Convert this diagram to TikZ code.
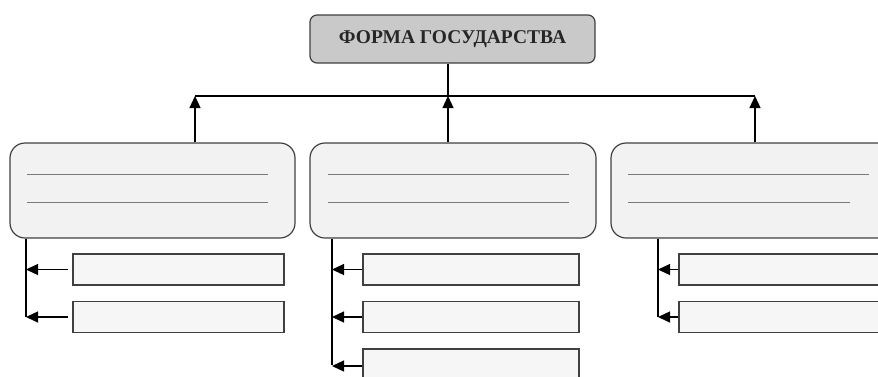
\documentclass[tikz,border=0pt]{standalone}
\usepackage{fontspec}
\setmainfont{Liberation Serif}
\usetikzlibrary{arrows.meta}
\definecolor{edge}{HTML}{404040}
\definecolor{topfill}{HTML}{C9C9C9}
\definecolor{bigfill}{HTML}{F2F2F2}
\definecolor{smallfill}{HTML}{F6F6F6}
\definecolor{rule}{HTML}{7A7A7A}
\begin{document}
\begin{tikzpicture}[x=1pt,y=-1pt,
  topbox/.style={draw=edge,line width=1.2pt,fill=topfill,rounded corners=7pt,minimum width=285pt,minimum height=48pt,inner sep=0pt,font=\fontsize{19.5}{22}\selectfont\bfseries,text=black!85},
  bigbox/.style={draw=edge,line width=1.2pt,fill=bigfill,rounded corners=15pt,minimum height=95pt,inner sep=0pt},
  smallbox/.style={draw=edge,line width=1.2pt,fill=smallfill,minimum height=31pt,inner sep=0pt},
  conn/.style={draw=black,line width=1.3pt},
  arr/.style={conn,-{Triangle[length=12pt,width=11pt]}},
  blank/.style={draw=rule,line width=1pt}]
\useasboundingbox (0,0) rectangle (878,376);
\clip (0,0) rectangle (878,376);
% top
\node[topbox] (top) at (452.5,39) {ФОРМА ГОСУДАРСТВА};
% big boxes
\node[bigbox,minimum width=285pt] (L) at (152.5,190.5) {};
\node[bigbox,minimum width=286pt] (M) at (453,190.5) {};
\node[bigbox,minimum width=286pt] (R) at (754,190.5) {};
% blanks
\draw[blank] (27,174) -- (268,174);
\draw[blank] (27,202) -- (268,202);
\draw[blank] (328,174) -- (569,174);
\draw[blank] (328,202) -- (569,202);
\draw[blank] (628,174) -- (869,174);
\draw[blank] (628,202) -- (850,202);
% small boxes
\node[smallbox,minimum width=211pt] (L1) at (178.5,269.5) {};
\node[smallbox,minimum width=211pt] (L2) at (178.5,317) {};
\node[smallbox,minimum width=216pt] (M1) at (471,269.5) {};
\node[smallbox,minimum width=216pt] (M2) at (471,317) {};
\node[smallbox,minimum width=216pt,minimum height=34pt] (M3) at (471,366) {};
\node[smallbox,minimum width=216pt] (R1) at (787,269.5) {};
\node[smallbox,minimum width=216pt] (R2) at (787,317) {};
% bus
\coordinate (bt) at (448,96);
\coordinate (bl) at (195,96);
\coordinate (br) at (755,96);
\draw[conn] (top.south -| bt) -- (bt);
\draw[conn] (bl) -- (br);
\draw[arr] (L.north -| bl) -- (bl);
\draw[arr] (M.north -| bt) -- (bt);
\draw[arr] (R.north -| br) -- (br);
% left branch
\coordinate (lv) at (26,317);
\draw[conn] (L.south -| lv) -- (lv);
\draw[arr] ([xshift=-4pt]L1.west) -- (L1.west -| lv);
\draw[arr] ([xshift=-4pt]L2.west) -- (L2.west -| lv);
% middle branch
\coordinate (mv) at (332,365);
\draw[conn] (M.south -| mv) -- (mv);
\draw[arr] (M1.west) -- (M1.west -| mv);
\draw[arr] (M2.west) -- (M2.west -| mv);
\draw[arr] (M3.west) -- (M3.west -| mv);
% right branch
\coordinate (rv) at (658,317);
\draw[conn] (R.south -| rv) -- (rv);
\draw[arr] (R1.west) -- (R1.west -| rv);
\draw[arr] (R2.west) -- (R2.west -| rv);
\end{tikzpicture}
\end{document}
